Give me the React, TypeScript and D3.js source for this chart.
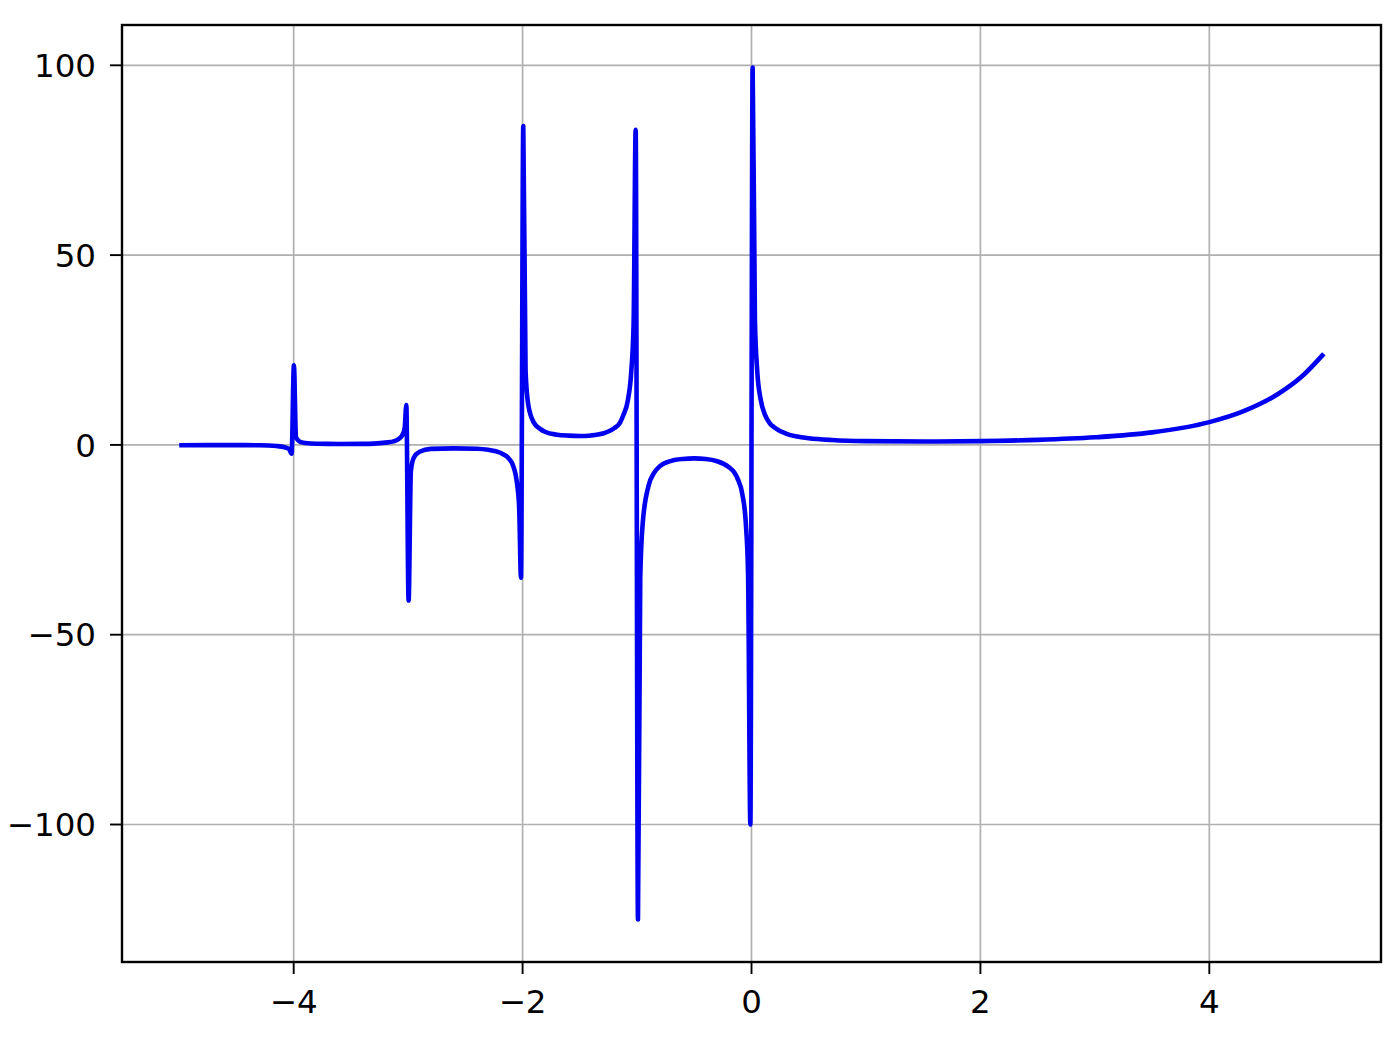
import * as React from 'react';
import * as d3 from 'd3';

// values, one list per stretch between poles
const seg1X = [-5.0, -4.6, -4.3, -4.15, -4.08, -4.04, -4.018];
const seg1Y = [-0.1, -0.05, -0.1, -0.3, -0.6, -1.1, -2.3];
const seg2X = [-3.998, -3.98, -3.95, -3.9, -3.8, -3.6, -3.4, -3.3, -3.2, -3.12, -3.08, -3.05, -3.03, -3.016];
const seg2Y = [21, 2.1, 0.9, 0.5, 0.3, 0.25, 0.27, 0.35, 0.6, 1.0, 1.6, 2.6, 4.5, 10.5];
const seg3X = [-2.996, -2.976, -2.95, -2.9, -2.8, -2.6, -2.4, -2.3, -2.2, -2.12, -2.08, -2.05, -2.03, -2.014];
const seg3Y = [-41, -6.9, -3.3, -1.8, -1.05, -0.9, -1.0, -1.3, -2.0, -3.6, -5.7, -9.8, -16.5, -35];
const seg4X = [-1.994, -1.974, -1.95, -1.9, -1.85, -1.8, -1.7, -1.6, -1.5, -1.4, -1.3, -1.2, -1.15, -1.12, -1.08, -1.05, -1.03, -1.012];
const seg4Y = [84, 19.5, 10.5, 5.8, 4.3, 3.4, 2.7, 2.45, 2.36, 2.5, 3.0, 4.4, 5.8, 7.8, 11.8, 19.5, 32, 83];
const seg5X = [-0.992, -0.972, -0.95, -0.9, -0.85, -0.8, -0.7, -0.6, -0.5, -0.4, -0.3, -0.2, -0.15, -0.12, -0.08, -0.05, -0.03, -0.01];
const seg5Y = [-125, -35, -20.5, -10.8, -7.3, -5.6, -4.2, -3.7, -3.55, -3.7, -4.3, -5.8, -7.3, -9.0, -13, -20.5, -34, -100];
const seg6X = [0.01, 0.03, 0.05, 0.08, 0.12, 0.16, 0.2, 0.3, 0.4, 0.5, 0.7, 1.0, 1.5, 2.0, 2.5, 3.0, 3.5, 4.0, 4.3, 4.6, 4.8, 5.0];
const seg6Y = [99.4, 32.8, 19.5, 12, 7.8, 5.7, 4.6, 3.0, 2.2, 1.77, 1.3, 1.0, 0.89, 1.0, 1.33, 2.0, 3.3, 6.0, 8.9, 13.4, 17.8, 24];

const xTicks = [-4, -2, 0, 2, 4];
const yTicks = [-100, -50, 0, 50, 100];

const fmt = (v: number) => (v < 0 ? '\u2212' + Math.abs(v) : String(v));

export default function App() {
  const W = 1395, H = 1040;
  const m = { left: 122, right: 14, top: 25, bottom: 78 };
  const iw = W - m.left - m.right;
  const ih = H - m.top - m.bottom;

  const xs = [...seg1X, ...seg2X, ...seg3X, ...seg4X, ...seg5X, ...seg6X];
  const ys = [...seg1Y, ...seg2Y, ...seg3Y, ...seg4Y, ...seg5Y, ...seg6Y];
  const pts = xs.map((x, i) => ({ x, y: ys[i] }));

  const xMin = d3.min(xs)!, xMax = d3.max(xs)!;
  const yMin = d3.min(ys)!, yMax = d3.max(ys)!;
  const xPad = (xMax - xMin) * 0.05, yPad = (yMax - yMin) * 0.05;

  const x = d3.scaleLinear().domain([xMin - xPad, xMax + xPad]).range([0, iw]);
  const y = d3.scaleLinear().domain([yMin - yPad, yMax + yPad]).range([ih, 0]);

  const line = d3
    .line<{ x: number; y: number }>()
    .x(d => x(d.x))
    .y(d => y(d.y))
    .curve(d3.curveMonotoneX);

  const font = 'DejaVu Sans, sans-serif';

  return (
    <svg width={W} height={H} style={{ position: 'absolute', left: 0, top: 0 }}>
      <rect width={W} height={H} fill="#fff" />
      <g transform={`translate(${m.left},${m.top})`}>
        {xTicks.map(t => (
          <line key={'gx' + t} x1={x(t)} x2={x(t)} y1={0} y2={ih} stroke="#b0b0b0" strokeWidth={1.7} />
        ))}
        {yTicks.map(t => (
          <line key={'gy' + t} x1={0} x2={iw} y1={y(t)} y2={y(t)} stroke="#b0b0b0" strokeWidth={1.7} />
        ))}
        <path d={line(pts) ?? ''} fill="none" stroke="#0000f0" strokeWidth={4.6} strokeLinejoin="round" />
        <rect x={0} y={0} width={iw} height={ih} fill="none" stroke="#000" strokeWidth={2.4} />
        {xTicks.map(t => (
          <g key={'tx' + t} transform={`translate(${x(t)},${ih})`}>
            <line y1={0} y2={12} stroke="#000" strokeWidth={1.9} />
            <text y={51} textAnchor="middle" fontFamily={font} fontSize={32.5} fill="#000">
              {fmt(t)}
            </text>
          </g>
        ))}
        {yTicks.map(t => (
          <g key={'ty' + t} transform={`translate(0,${y(t)})`}>
            <line x1={-12} x2={0} stroke="#000" strokeWidth={1.9} />
            <text x={-26} dy="0.36em" textAnchor="end" fontFamily={font} fontSize={32.5} fill="#000">
              {fmt(t)}
            </text>
          </g>
        ))}
      </g>
    </svg>
  );
}
